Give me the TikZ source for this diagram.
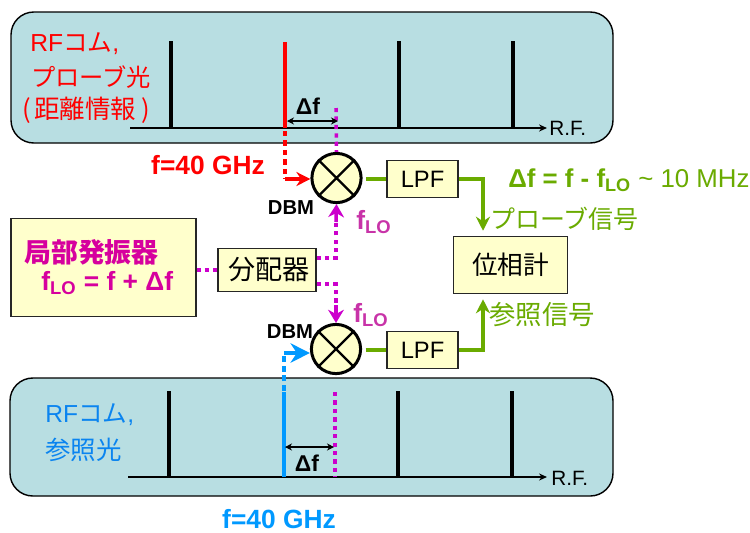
\documentclass[tikz,border=0pt]{standalone}
\usepackage{fontspec}
\setmainfont{Liberation Sans}
\newfontfamily\jp{Noto Sans CJK JP}
\usetikzlibrary{arrows.meta}
\definecolor{panelblue}{HTML}{B8DEE2}
\definecolor{boxyellow}{HTML}{FFFFCC}
\definecolor{lomagenta}{HTML}{CC00CC}
\definecolor{lotext}{HTML}{C833A8}
\definecolor{osctext}{HTML}{D6009E}
\definecolor{sigred}{HTML}{FF0000}
\definecolor{sigblue}{HTML}{0099FF}
\definecolor{textblue}{HTML}{0A84F0}
\definecolor{siggreen}{HTML}{6AAB00}
\tikzset{
	panel/.style={draw=black, fill=panelblue, line width=0.8pt, rounded corners=13pt},
	box/.style={draw=black!85, fill=boxyellow, line width=0.9pt, inner sep=0pt, font=\fontsize{13.5}{13.5}\selectfont},
	mixer/.style={circle, draw=black, fill=boxyellow, line width=1.7pt, minimum size=28pt, inner sep=0pt},
	axis/.style={line width=0.8pt, -{Stealth[length=4.5pt,width=4pt]}},
	tooth/.style={line width=2pt},
	lo/.style={lomagenta, line width=2pt, dash pattern=on 2.4pt off 2.4pt},
	loarrow/.style={lomagenta, line width=2pt, -{Stealth[length=7.5pt,width=9pt]}},
	green/.style={siggreen, line width=2pt},
	delta/.style={line width=0.6pt, {Stealth[length=4pt,width=4pt]}-{Stealth[length=4pt,width=4pt]}},
	txt/.style={inner sep=0pt, anchor=west, font=\fontsize{12}{12}\selectfont},
	bigbold/.style={inner sep=0pt, font=\fontsize{15}{15}\selectfont\bfseries},
	dbm/.style={inner sep=0pt, font=\fontsize{11.5}{11.5}\selectfont\bfseries}
}
\begin{document}
\begin{tikzpicture}[x=0.02cm, y=-0.02cm, >=stealth]
	\useasboundingbox (0,0) rectangle (750,532);

	% Panels
	\fill[white] (0,0) rectangle (750,532);
	\draw[panel] (11,12) rectangle (613,143);
	\draw[panel] (10,378) rectangle (613,496);

	% Upper comb
	\coordinate (ua) at (130,128);
	\coordinate (ub) at (547,128);
	\draw[axis] (ua) -- (ub);
	\draw[tooth] (171,41) -- (171,128);
	\draw[tooth, sigred] (285,42) -- (285,128);
	\draw[tooth] (399,41) -- (399,128);
	\draw[tooth] (513,41) -- (513,128);
	\node[txt, font=\fontsize{11.8}{11.8}\selectfont] (urf) at (549,128) {R.F.};

	% Lower comb
	\coordinate (la) at (128,477);
	\coordinate (lb) at (547,477);
	\draw[axis] (la) -- (lb);
	\draw[tooth] (169,391) -- (169,477);
	\draw[tooth, sigblue] (284,392) -- (284,477);
	\draw[tooth] (398,391) -- (398,477);
	\draw[tooth] (512,391) -- (512,477);
	\node[txt, font=\fontsize{11.8}{11.8}\selectfont] (lrf) at (551,478) {R.F.};

	% Boxes
	\node[mixer] (mu) at (336.5,178) {};
	\node[mixer] (ml) at (336,349) {};
	\draw[line width=1.3pt] (mu.45) -- (mu.225) (mu.135) -- (mu.315);
	\draw[line width=1.3pt] (ml.45) -- (ml.225) (ml.135) -- (ml.315);
	\node[box, minimum width=40.5pt, minimum height=21pt] (lpfu) at (422.5,179) {LPF};
	\node[box, minimum width=40.5pt, minimum height=21pt] (lpfl) at (422.5,350) {LPF};
	\node[box, minimum width=65pt, minimum height=32.5pt, font=\fontsize{14.6}{14.6}\selectfont\jp] (phase) at (510.5,265) {位相計};
	\node[box, minimum width=55.5pt, minimum height=24.5pt, font=\fontsize{15.4}{15.4}\selectfont\jp] (split) at (267,270) {\kern2pt 分配器};
	\node[box, minimum width=105pt, minimum height=56pt] (osc) at (103.5,267.5) {};

	% Local oscillator lines
	\coordinate (su) at (336,258);
	\coordinate (sl) at (336,284);
	\coordinate (up) at (336,108);
	\coordinate (lp) at (335,392);
	\coordinate (lq) at (335,477);
	\coordinate (ua1) at (336,222);
	\coordinate (la1) at (336,305);
	\draw[lo] (osc.east |- split.west) -- (split.west);
	\draw[lo] (split.east |- su) -- (su) -- (ua1);
	\draw[loarrow] (ua1) -- (mu.south);
	\draw[lo] (split.east |- sl) -- (sl) -- (la1);
	\draw[loarrow] (la1) -- (ml.north);
	\draw[lo] (up) -- (mu.north);
	\draw[lo] (lp) -- (lq);

	% Signal lines
	\coordinate (rs) at (285,131);
	\coordinate (rc) at (285,179);
	\coordinate (bs) at (284,391);
	\coordinate (bc) at (284,353);
	\draw[sigred, line width=2pt, dash pattern=on 3pt off 2.4pt] (rs) -- (rc);
	\draw[sigred, line width=2pt, -{Stealth[length=8pt,width=8pt]}] (rc) -- (mu.west |- rc);
	\draw[sigblue, line width=2pt, dash pattern=on 3.5pt off 2pt] (bs) -- (bc);
	\draw[sigblue, line width=2pt, -{Stealth[length=11pt,width=11pt]}] (bc) -- (ml.west |- bc);

	% Output lines
	\coordinate (gu) at (483,179);
	\coordinate (gl) at (483,350);
	\draw[green, shorten <=2pt] (mu.east |- lpfu.west) -- (lpfu.west);
	\draw[green, shorten <=2pt] (ml.east |- lpfl.west) -- (lpfl.west);
	\draw[green, shorten >=2.8pt, -{Stealth[length=8pt,width=8pt]}] (lpfu.east) -- (gu) -- (gu |- phase.north);
	\draw[green, shorten >=2.8pt, -{Stealth[length=8pt,width=8pt]}] (lpfl.east) -- (gl) -- (gl |- phase.south);

	% Delta f marks
	\coordinate (du1) at (287,121);
	\coordinate (du2) at (338,121);
	\coordinate (dl1) at (285,447);
	\coordinate (dl2) at (334,447);
	\draw[delta] (du1) -- (du2);
	\draw[delta] (dl1) -- (dl2);
	\node[bigbold, font=\fontsize{13}{13}\selectfont\bfseries] (du) at (308,106) {Δf};
	\node[bigbold, font=\fontsize{13}{13}\selectfont\bfseries] (dl) at (307,463) {Δf};

	% Labels
	\node[txt, text=sigred, font=\fontsize{14}{14}\selectfont] (rf1) at (30,44) {RF{\jp コム},};
	\node[txt, text=sigred, font=\fontsize{13.8}{13.8}\selectfont\jp] (rf2) at (31,77) {プローブ光};
	\node[txt, text=sigred, font=\fontsize{14.5}{14.5}\selectfont\jp] (rf3) at (22,110) {(\kern2pt 距離情報\kern3pt)};
	\node[bigbold, text=sigred] (fr) at (208,165) {f=40 GHz};
	\node[txt, text=textblue, font=\fontsize{14}{14}\selectfont] (rf4) at (45,415) {RF{\jp コム},};
	\node[txt, text=textblue, font=\fontsize{14.5}{14.5}\selectfont\jp] (rf5) at (45,450) {参照光};
	\node[bigbold, text=sigblue] (fb) at (279,519) {f=40 GHz};
	\node[dbm] (dbmu) at (291,208) {DBM};
	\node[dbm] (dbml) at (290,332) {DBM};
	\node[bigbold, text=lotext, anchor=west] (lou) at (356,222) {f\textsubscript{LO}};
	\node[bigbold, text=lotext, anchor=west] (lol) at (353,315) {f\textsubscript{LO}};
	\node[txt, text=osctext, font=\fontsize{15.3}{15.3}\selectfont\bfseries\jp] (osc1) at (24,252) {局部発振器};
	\node[bigbold, text=osctext, anchor=west] (osc2) at (41,283) {f\textsubscript{LO} = f + Δf};
	\node[txt, text=siggreen, font=\fontsize{14.7}{14.7}\selectfont] (eq) at (508,180) {\textbf{Δf = f - f\textsubscript{LO}} \textasciitilde{} 10 MHz};
	\node[txt, text=siggreen, font=\fontsize{14.2}{14.2}\selectfont\jp] (probe) at (490,219) {プローブ信号};
	\node[txt, text=siggreen, font=\fontsize{15}{15}\selectfont\jp] (ref) at (489,315) {参照信号};
\end{tikzpicture}
\end{document}
